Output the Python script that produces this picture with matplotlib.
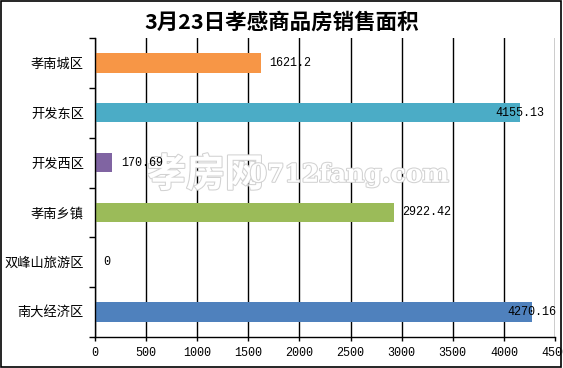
import matplotlib
matplotlib.use("Agg")
import matplotlib.pyplot as plt
import matplotlib.patheffects as pe
from matplotlib.patches import Rectangle
import numpy as np

plt.rcParams['font.family'] = ['Noto Sans CJK SC', 'DejaVu Sans']

title = "3月23日孝感商品房销售面积"
areas = ["孝南城区", "开发东区", "开发西区", "孝南乡镇", "双峰山旅游区", "南大经济区"]
values = [1621.2, 4155.13, 170.69, 2922.42, 0, 4270.16]
labels = ["1621.2", "4155.13", "170.69", "2922.42", "0", "4270.16"]
colors = ["#F79646", "#4BACC6", "#8064A2", "#9BBB59", "#4F81BD", "#4F81BD"]
xticks = [0, 500, 1000, 1500, 2000, 2500, 3000, 3500, 4000, 4500]

fig = plt.figure(figsize=(5.63, 3.68), dpi=100)
fig.patches.append(Rectangle((0.002, 0.003), 0.994, 0.994, transform=fig.transFigure,
                             fill=False, edgecolor='black', linewidth=1.2))
ax = fig.add_axes([0.1687, 0.0842, 0.8171, 0.8125])

y = np.arange(len(areas))
ax.barh(y, values, height=0.39, color=colors, zorder=3)
ax.set_ylim(len(areas) - 0.5, -0.5)
ax.set_xlim(0, 4500)

mono = ['Liberation Mono', 'DejaVu Sans']
for i, (v, lab) in enumerate(zip(values, labels)):
    if v > 4000:
        ax.text(v, i, lab, ha='center', va='center', fontsize=8.5, zorder=5, family=mono)
    else:
        ax.annotate(lab, (v, i), xytext=(6, 0), textcoords='offset points',
                    ha='left', va='center', fontsize=8.5, zorder=5, family=mono)

ax.set_yticks(y)
ax.set_yticklabels(areas, fontsize=9.5)
ax.set_yticks(np.arange(len(areas) + 1) - 0.5, minor=True)
ax.tick_params(axis='y', which='major', length=0, pad=8)
ax.tick_params(axis='y', which='minor', length=4, width=1, direction='out')

ax.set_xticks(xticks)
ax.set_xticklabels([str(t) for t in xticks], fontsize=8.5, family=mono)
ax.tick_params(axis='x', length=3, width=1, direction='out', pad=4)
ax.grid(axis='x', color='black', linewidth=1, zorder=1)

for s in ['top', 'right']:
    ax.spines[s].set_visible(False)
for s in ['left', 'bottom']:
    ax.spines[s].set_linewidth(1)
    ax.spines[s].set_zorder(6)

fig.text(0.5, 0.94, title, ha='center', va='center', fontsize=15.5, fontweight='bold')

# watermark, under the value labels
halo = [pe.withStroke(linewidth=1.5, foreground='#d2d2d2')]
ax.text(0.365, 0.525, "孝房网", transform=fig.transFigure, ha='center', va='center',
        fontsize=28, fontweight='bold', color='white', zorder=4, path_effects=halo)
ax.text(0.62, 0.525, "0712fang.com", transform=fig.transFigure, ha='center', va='center',
        fontsize=18, fontweight='bold', color='white', zorder=4, path_effects=halo,
        family=['DejaVu Serif'])

plt.savefig("out.png", dpi=100)
